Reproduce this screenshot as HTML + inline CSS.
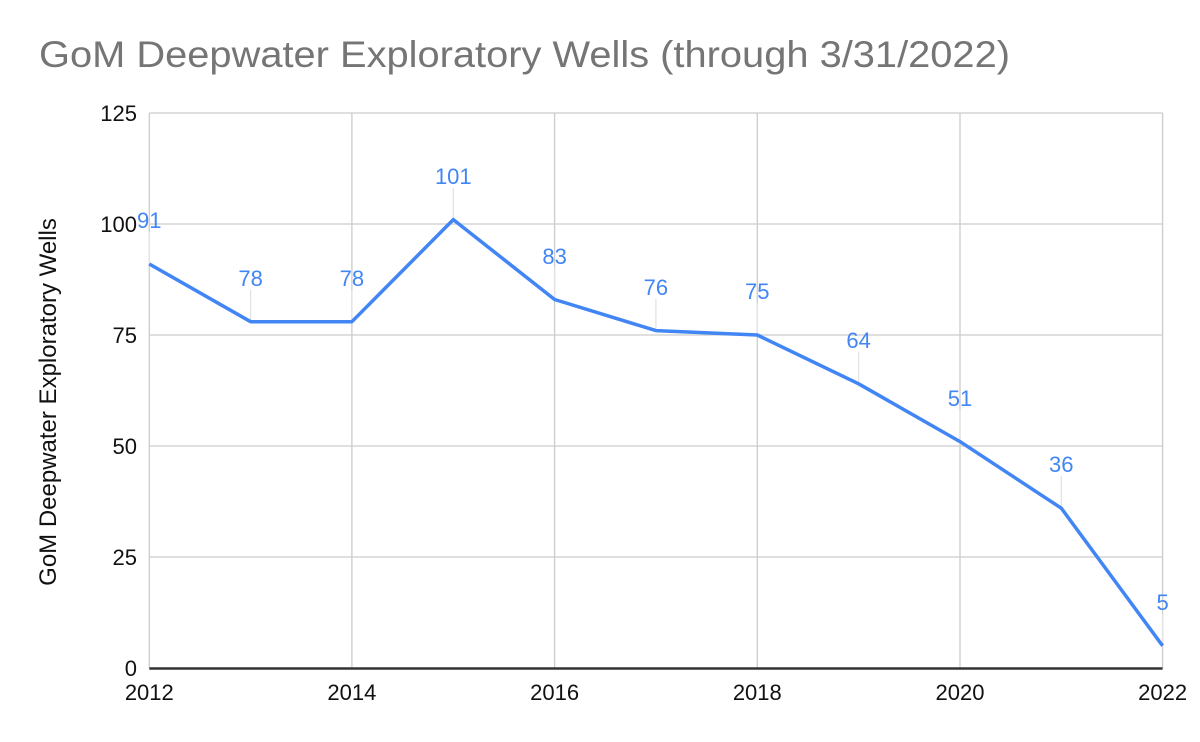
<!DOCTYPE html>
<html><head><meta charset="utf-8"><style>
html,body{margin:0;padding:0;background:#fff;}
svg{display:block;font-family:"Liberation Sans",Arial,sans-serif;}
</style></head><body>
<svg width="1200" height="742" viewBox="0 0 1200 742" xmlns="http://www.w3.org/2000/svg">
<rect width="1200" height="742" fill="#fff"/>
<text x="39" y="67" font-size="37" fill="#757575" textLength="971" lengthAdjust="spacingAndGlyphs">GoM Deepwater Exploratory Wells (through 3/31/2022)</text>
<g stroke="#cccccc" stroke-width="1.3" fill="none">
<line x1="149.3" y1="113" x2="1162.6" y2="113"/>
<line x1="149.3" y1="224" x2="1162.6" y2="224"/>
<line x1="149.3" y1="335" x2="1162.6" y2="335"/>
<line x1="149.3" y1="446" x2="1162.6" y2="446"/>
<line x1="149.3" y1="557" x2="1162.6" y2="557"/>
<line x1="149.3" y1="113" x2="149.3" y2="668"/>
<line x1="351.9" y1="113" x2="351.9" y2="668"/>
<line x1="554.6" y1="113" x2="554.6" y2="668"/>
<line x1="757.3" y1="113" x2="757.3" y2="668"/>
<line x1="960" y1="113" x2="960" y2="668"/>
<line x1="1162.6" y1="113" x2="1162.6" y2="668"/>
</g>
<g stroke="#e3e3e3" stroke-width="1.3">
<line x1="149.3" y1="232" x2="149.3" y2="264"/>
<line x1="250.6" y1="290" x2="250.6" y2="321.7"/>
<line x1="351.9" y1="290" x2="351.9" y2="321.7"/>
<line x1="453.3" y1="188" x2="453.3" y2="219.6"/>
<line x1="554.6" y1="267" x2="554.6" y2="299.5"/>
<line x1="655.9" y1="299" x2="655.9" y2="330.6"/>
<line x1="757.3" y1="303" x2="757.3" y2="335"/>
<line x1="858.6" y1="352" x2="858.6" y2="383.8"/>
<line x1="960" y1="410" x2="960" y2="441.6"/>
<line x1="1061.3" y1="476" x2="1061.3" y2="508.2"/>
<line x1="1162.6" y1="614" x2="1162.6" y2="645.8"/>
</g>
<line x1="149.3" y1="668.5" x2="1162.6" y2="668.5" stroke="#333" stroke-width="2.5"/>
<polyline fill="none" stroke="#4285f4" stroke-width="3.5" stroke-linejoin="round" points="149.3,264 250.6,321.7 351.9,321.7 453.3,219.6 554.6,299.5 655.9,330.6 757.3,335 858.6,383.8 960,441.6 1061.3,508.2 1162.6,645.8"/>
<g font-size="22" fill="#4285f4" text-anchor="middle">
<text x="149.3" y="228">91</text>
<text x="250.6" y="286">78</text>
<text x="351.9" y="286">78</text>
<text x="453.3" y="184">101</text>
<text x="554.6" y="264">83</text>
<text x="655.9" y="295">76</text>
<text x="757.3" y="299">75</text>
<text x="858.6" y="348">64</text>
<text x="960" y="406">51</text>
<text x="1061.3" y="472">36</text>
<text x="1162.6" y="610">5</text>
</g>
<g font-size="22" fill="#111" text-anchor="end">
<text x="137" y="121">125</text>
<text x="137" y="232">100</text>
<text x="137" y="343">75</text>
<text x="137" y="454">50</text>
<text x="137" y="565">25</text>
<text x="137" y="676">0</text>
</g>
<g font-size="22" fill="#111" text-anchor="middle">
<text x="149.3" y="700">2012</text>
<text x="351.9" y="700">2014</text>
<text x="554.6" y="700">2016</text>
<text x="757.3" y="700">2018</text>
<text x="960" y="700">2020</text>
<text x="1162.6" y="700">2022</text>
</g>
<text transform="translate(56,402) rotate(-90)" font-size="24" fill="#111" text-anchor="middle">GoM Deepwater Exploratory Wells</text>
</svg>
</body></html>
